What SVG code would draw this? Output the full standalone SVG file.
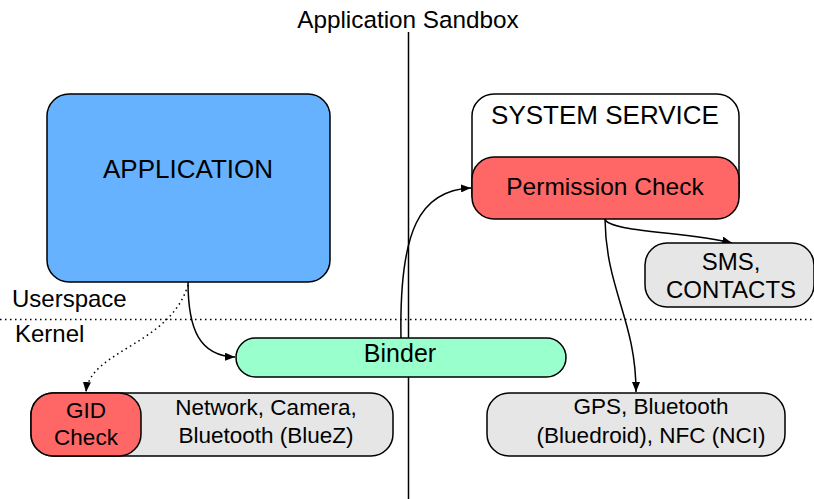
<svg xmlns="http://www.w3.org/2000/svg" width="814" height="499" viewBox="0 0 814 499">
<defs>
<marker id="arr" viewBox="0 0 10 8" refX="10" refY="4" markerWidth="10" markerHeight="8" markerUnits="userSpaceOnUse" orient="auto">
<path d="M0,0 L10,4 L0,8 Z" fill="#000"/>
</marker>
<style>
text{font-family:"Liberation Sans",Arial,sans-serif;fill:#000}
.box{stroke:#000;stroke-width:1.5}
.c{text-anchor:middle}
.conn{fill:none;stroke:#000;stroke-width:1.5}
</style>
</defs>
<rect width="814" height="499" fill="#fff"/>
<g id="sandbox">
<text x="408" y="28" class="c" font-size="24.3">Application Sandbox</text>
<line x1="408.5" y1="32" x2="408.5" y2="499" stroke="#000" stroke-width="1.5"/>
</g>
<g id="layers">
<text x="12" y="307" font-size="24">Userspace</text>
<line x1="0" y1="319.5" x2="814" y2="319.5" stroke="#000" stroke-width="1.5" stroke-dasharray="1.5 3.5"/>
<text x="15" y="342" font-size="24">Kernel</text>
</g>
<g id="connectors">
<path class="conn" d="M188,282 C188,330 200,356 235,357" marker-end="url(#arr)"/>
<path class="conn" d="M188,285 C170,345 90,350 86,392" stroke-dasharray="1.5 3.5" marker-end="url(#arr)"/>
<path class="conn" d="M401,338 C399,230 420,190 471,188" marker-end="url(#arr)"/>
<path class="conn" d="M605,219 C608,232 690,232 732,243" marker-end="url(#arr)"/>
<path class="conn" d="M605,219 C606,290 636,320 636,392" marker-end="url(#arr)"/>
</g>
<g id="application">
<rect class="box" x="47" y="94" width="283" height="188" rx="22" fill="#66b2ff"/>
<text x="188" y="178" class="c" font-size="26">APPLICATION</text>
</g>
<g id="system-service">
<rect class="box" x="472" y="94" width="267" height="121" rx="22" fill="#fff"/>
<text x="605" y="124" class="c" font-size="26">SYSTEM SERVICE</text>
</g>
<g id="permission-check">
<rect class="box" x="472" y="157" width="267" height="62" rx="22" fill="#ff6666"/>
<text x="605" y="195" class="c" font-size="24.5">Permission Check</text>
</g>
<g id="sms">
<rect class="box" x="645" y="243" width="169" height="64" rx="22" fill="#e6e6e6"/>
<text x="731" y="270" class="c" font-size="24">SMS,</text>
<text x="731" y="298" class="c" font-size="24">CONTACTS</text>
</g>
<g id="binder">
<rect class="box" x="236" y="338" width="330" height="39" rx="19.5" fill="#99ffcc"/>
<text x="400" y="362" class="c" font-size="25">Binder</text>
</g>
<g id="kernel-drivers">
<rect class="box" x="31" y="393" width="362" height="63" rx="22" fill="#e6e6e6"/>
<text x="266" y="415" class="c" font-size="22.5">Network, Camera,</text>
<text x="266" y="443" class="c" font-size="22.5">Bluetooth (BlueZ)</text>
</g>
<g id="gid-check">
<rect class="box" x="31" y="393" width="110" height="63" rx="22" fill="#ff6666"/>
<text x="86" y="418" class="c" font-size="22.5">GID</text>
<text x="86" y="445" class="c" font-size="22.5">Check</text>
</g>
<g id="userspace-drivers">
<rect class="box" x="487" y="393" width="298" height="63" rx="22" fill="#e6e6e6"/>
<text x="651" y="414" class="c" font-size="22.5">GPS, Bluetooth</text>
<text x="651" y="443" class="c" font-size="22.5">(Bluedroid), NFC (NCI)</text>
</g>
</svg>
